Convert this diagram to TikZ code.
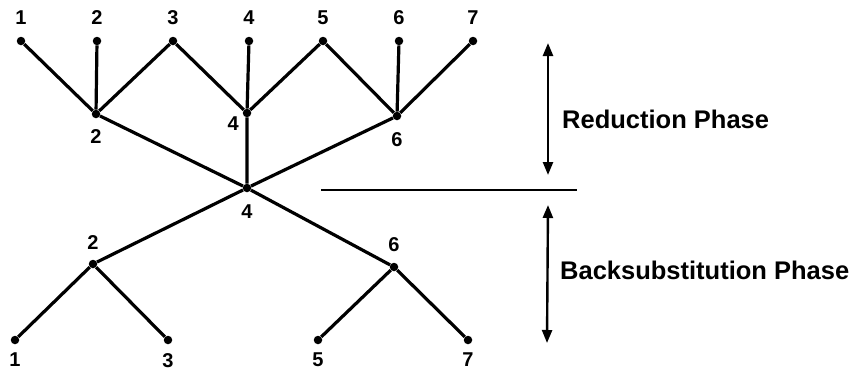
\documentclass[tikz,border=0pt]{standalone}
\usepackage{fontspec}
\setmainfont{Liberation Sans}
\usetikzlibrary{arrows.meta}

\tikzset{
  dot/.style={circle, fill=black, inner sep=0pt, minimum size=8.5pt},
  num/.style={font=\fontsize{20}{22}\selectfont\bfseries, inner sep=0pt},
  edge/.style={line width=3.2pt},
  phase/.style={font=\fontsize{25.5}{28}\selectfont\bfseries, inner sep=0pt, anchor=west},
  span/.style={line width=2.4pt, {Triangle[length=13pt,width=10pt]}-{Triangle[length=13pt,width=10pt]}},
}

\begin{document}
\begin{tikzpicture}[x=1pt, y=-1pt]
  \useasboundingbox (0,0) rectangle (854,375);

  % leaves on top
  \foreach \i/\x in {1/21, 2/97, 3/173, 4/249, 5/323, 6/399, 7/473}
    \node[dot, label={[num, label distance=11.5pt]above:\i}] (t\i) at (\x,41) {};

  % first reduction
  \node[dot, label={[num, label distance=10.5pt]below:2}] (m2) at (96,114) {};
  \node[dot, label={[num, xshift=-5pt]below left:4}] (m4) at (247,113) {};
  \node[dot, label={[num, label distance=11.5pt]below:6}] (m6) at (397,116) {};

  % root
  \node[dot, label={[num, label distance=12.5pt]below:4}] (c4) at (247,188) {};

  % backsubstitution
  \node[dot, label={[num, label distance=9.5pt]above:2}] (b2) at (93,264) {};
  \node[dot, label={[num, label distance=10.5pt]above:6}] (b6) at (394,267) {};
  \foreach \i/\x in {1/15, 3/168, 5/318, 7/468}
    \node[dot, label={[num, label distance=8.5pt]below:\i}] (l\i) at (\x,340) {};

  \draw[edge] (t1) -- (m2) (t2) -- (m2) (t3) -- (m2);
  \draw[edge] (t3) -- (m4) (t4) -- (m4) (t5) -- (m4);
  \draw[edge] (t5) -- (m6) (t6) -- (m6) (t7) -- (m6);
  \draw[edge] (m2) -- (c4) (m4) -- (c4) (m6) -- (c4);
  \draw[edge] (c4) -- (b2) (c4) -- (b6);
  \draw[edge] (b2) -- (l1) (b2) -- (l3) (b6) -- (l5) (b6) -- (l7);

  % phases
  \coordinate (sepl) at (321,190);
  \coordinate (sepr) at (577,190);
  \draw[line width=2pt] (sepl) -- (sepr);

  \coordinate (rtop) at (548,43);
  \coordinate (rbot) at (548,175);
  \coordinate (btop) at (548,205);
  \coordinate (bbot) at (547,343);
  \draw[span] (rtop) -- (rbot);
  \draw[span] (btop) -- (bbot);

  \node[phase] (red) at (562,119) {Reduction Phase};
  \node[phase] (back) at (560,270) {Backsubstitution Phase};
\end{tikzpicture}
\end{document}
